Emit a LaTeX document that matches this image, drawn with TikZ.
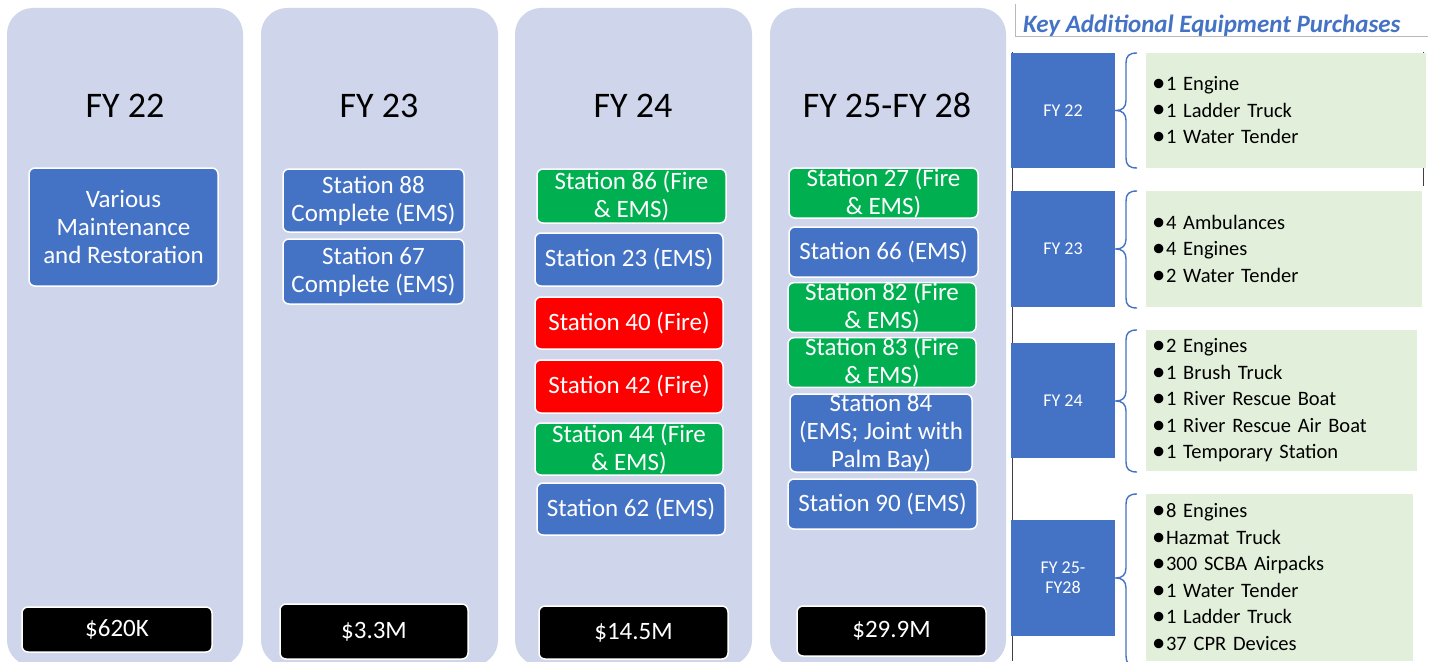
\documentclass[tikz,border=0pt]{standalone}
\usepackage{graphicx}
\usepackage{fontspec}
\setmainfont{Carlito}
\definecolor{cblue}{HTML}{4472C4}
\definecolor{cgreen}{HTML}{00B050}
\definecolor{cred}{HTML}{FF0000}
\definecolor{clav}{HTML}{CFD5EA}
\definecolor{clgreen}{HTML}{E2EFDA}
\definecolor{ctitle}{HTML}{4472C4}
\newcommand{\blt}{\makebox[14pt][l]{\raisebox{-0.8pt}{\scalebox{1.3}{\textbullet}}}}
\newcommand{\eqbrace}[3]{\draw[bracestyle] (1137,#1) .. controls (1129,#1) and (1126,{#1+3}) .. (1126,{#1+10}) -- (1126,{#2-10}) .. controls (1126,{#2-3}) and (1122,#2) .. (1116,#2) .. controls (1122,#2) and (1126,{#2+3}) .. (1126,{#2+10}) -- (1126,{#3-10}) .. controls (1126,{#3-3}) and (1129,#3) .. (1137,#3);}
\begin{document}
\begin{tikzpicture}[x=1pt,y=-1pt,
  column/.style={fill=clav, rounded corners=26pt},
  coltitle/.style={font=\fontsize{36}{40}\selectfont, anchor=base, inner sep=0pt},
  stbox/.style={draw=white, line width=1.5pt, rounded corners=6pt, text=white, align=center, inner sep=0pt, font=\fontsize{25}{28}\selectfont},
  cost/.style={stbox, fill=black, font=\fontsize{25}{28}\selectfont},
  fybox/.style={fill=cblue, text=white, align=center, inner sep=0pt, minimum width=104pt, font=\fontsize{18}{20}\selectfont},
  listbox/.style={fill=clgreen, align=left, inner xsep=6pt, inner ysep=0pt, font=\fontsize{20.5}{26.5}\selectfont},
  bracestyle/.style={draw=cblue, line width=1.4pt},
]
\useasboundingbox (0,0) rectangle (1431,661);
\fill[white] (0,0) rectangle (1431,661);
\begin{scope}
\clip (0,0) rectangle (1431,661);
\fill[column] (7,8) rectangle (243,666);
\fill[column] (261,8) rectangle (498,666);
\fill[column] (515,8) rectangle (752,666);
\fill[column] (770,8) rectangle (1006,666);
\end{scope}

% column titles
\node[coltitle] (t22) at (125,117) {FY 22};
\node[coltitle] (t23) at (379,117) {FY 23};
\node[coltitle] (t24) at (633,117) {FY 24};
\node[coltitle] (t25) at (887,117) {FY 25-FY 28};

% FY 22
\node[stbox, fill=cblue, minimum width=189pt, minimum height=118pt] (var) at (123.5,227) {Various\\Maintenance\\and Restoration};
% FY 23
\node[stbox, fill=cblue, minimum width=181pt, minimum height=63pt] (s88) at (373.5,200.5) {Station 88\\Complete (EMS)};
\node[stbox, fill=cblue, minimum width=181pt, minimum height=65pt] (s67) at (373.5,271.5) {Station 67\\Complete (EMS)};
% FY 24
\node[stbox, fill=cgreen, minimum width=189pt, minimum height=54pt] (s86) at (631.5,196) {Station 86 (Fire\\\& EMS)};
\node[stbox, fill=cblue, minimum width=188pt, minimum height=53pt] (s23) at (629,259.5) {Station 23 (EMS)};
\node[stbox, fill=cred, minimum width=188pt, minimum height=52pt] (s40) at (629,323) {Station 40 (Fire)};
\node[stbox, fill=cred, minimum width=188pt, minimum height=53pt] (s42) at (629,386.5) {Station 42 (Fire)};
\node[stbox, fill=cgreen, minimum width=188pt, minimum height=52pt] (s44) at (629,449) {Station 44 (Fire\\\& EMS)};
\node[stbox, fill=cblue, minimum width=188pt, minimum height=52pt] (s62) at (631,509) {Station 62 (EMS)};
% FY 25-28
\node[stbox, fill=cgreen, minimum width=189pt, minimum height=50pt] (s27) at (883.5,193) {Station 27 (Fire\\\& EMS)};
\node[stbox, fill=cblue, minimum width=189pt, minimum height=50pt] (s66) at (883.5,252) {Station 66 (EMS)};
\node[stbox, fill=cgreen, minimum width=188pt, minimum height=49pt] (s82) at (882,307.5) {Station 82 (Fire\\\& EMS)};
\node[stbox, fill=cgreen, minimum width=188pt, minimum height=49pt] (s83) at (882,362.5) {Station 83 (Fire\\\& EMS)};
\node[stbox, fill=cblue, minimum width=182pt, minimum height=78pt] (s84) at (881,433) {Station 84\\(EMS; Joint with\\Palm Bay)};
\node[stbox, fill=cblue, minimum width=189pt, minimum height=50pt] (s90) at (882.5,504) {Station 90 (EMS)};

% costs
\node[cost, minimum width=190pt, minimum height=45pt] (c22) at (117,629.5) {\$620K};
\node[cost, minimum width=188pt, minimum height=55pt] (c23) at (374,631.5) {\$3.3M};
\node[cost, minimum width=189pt, minimum height=53pt] (c24) at (633.5,632.5) {\$14.5M};
\node[cost, minimum width=189pt, minimum height=50pt] (c25) at (891.5,631) {\$29.9M};

% right panel
\draw[gray!55, line width=0.8pt] (1015,4) -- (1015,36) -- (1428,36);
\node[anchor=base west, inner sep=0pt, text=ctitle, font=\fontsize{25}{28}\selectfont\bfseries\itshape] (ktitle) at (1023,33) {Key Additional Equipment Purchases};
\draw[black!75, line width=0.8pt] (1012.5,52) -- (1012.5,661);
\draw[black!75, line width=0.8pt] (1423,52) -- (1423,186);

\node[fybox, minimum height=115pt] (f22) at (1063,110.5) {FY 22};
\node[fybox, minimum height=116pt] (f23) at (1063,249) {FY 23};
\node[fybox, minimum height=115pt] (f24) at (1063,400.5) {FY 24};
\node[fybox, minimum height=116pt] (f25) at (1063,578) {FY 25-\\FY28};

\node[listbox, minimum width=280pt, text width=268pt, minimum height=115pt] (l22) at (1286,110.5) {\blt 1 Engine\\\blt 1 Ladder Truck\\\blt 1 Water Tender};
\node[listbox, minimum width=276pt, text width=264pt, minimum height=116pt] (l23) at (1284,249) {\blt 4 Ambulances\\\blt 4 Engines\\\blt 2 Water Tender};
\node[listbox, minimum width=271pt, text width=259pt, minimum height=141pt] (l24) at (1281.5,400.5) {\blt 2 Engines\\\blt 1 Brush Truck\\\blt 1 River Rescue Boat\\\blt 1 River Rescue Air Boat\\\blt 1 Temporary Station};
\node[listbox, minimum width=267pt, text width=255pt, minimum height=167pt] (l25) at (1279.5,577.5) {\blt 8 Engines\\\blt Hazmat Truck\\\blt 300 SCBA Airpacks\\\blt 1 Water Tender\\\blt 1 Ladder Truck\\\blt 37 CPR Devices};

\eqbrace{53}{110.5}{168}
\eqbrace{191}{249}{308}
\eqbrace{330}{401}{472}
\eqbrace{494}{578}{666}
\end{tikzpicture}
\end{document}
